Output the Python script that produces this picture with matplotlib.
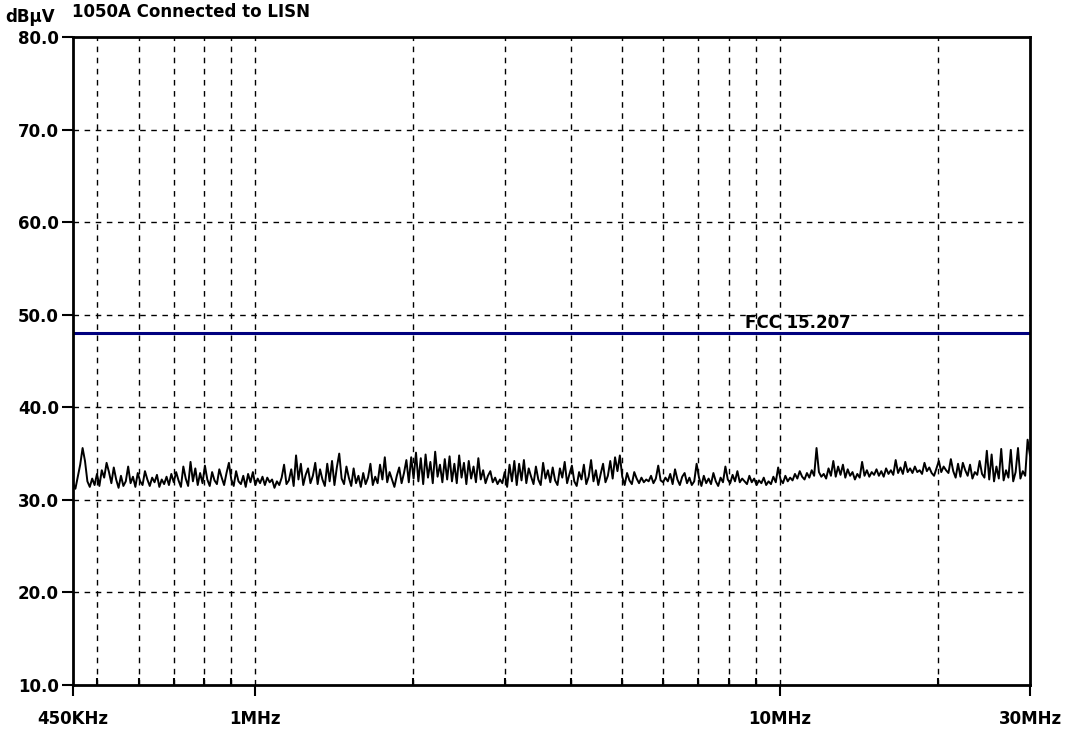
import numpy as np
import matplotlib
matplotlib.use("Agg")
import matplotlib.pyplot as plt
from matplotlib.ticker import FixedLocator, NullFormatter

# frequency span of the scan (Hz)
f_start = 450e3
f_stop = 30e6

# limit line
limit_db = 48.0
limit_label = "FCC 15.207"

trace_db = [
    31.8, 31.2, 32.5, 33.8, 35.6, 34.2, 32.0, 31.4, 32.3, 31.6, 32.8, 31.5, 33.2, 32.4, 34.0, 33.0, 31.8, 33.5, 32.2, 31.3,
    32.6, 31.5, 32.0, 33.6, 31.8, 32.5, 31.4, 32.9, 32.0, 31.6, 33.1, 32.2, 31.5, 32.4, 31.9, 32.7, 31.4, 32.2, 31.7, 32.5,
    31.6, 32.8, 31.9, 33.0, 32.1, 31.4, 33.6, 32.3, 31.5, 34.1, 32.0, 33.4, 31.6, 32.9, 31.8, 33.7, 32.2, 31.5, 33.0, 32.1,
    31.7, 33.3, 32.4, 31.6, 32.9, 34.0, 32.2, 31.5, 33.1, 32.0, 31.7, 32.6, 31.4, 32.8, 31.9, 33.0, 31.6, 32.3, 31.8, 32.5,
    31.6, 32.4, 31.9, 32.2, 31.3, 32.0, 31.6, 32.4, 33.8, 31.7, 32.1, 33.3, 31.5, 34.8, 32.2, 33.9, 31.6, 32.7, 33.4, 31.8,
    32.6, 34.0, 31.7, 33.3, 32.2, 31.5, 33.9, 32.0, 34.2, 31.6, 33.5, 35.0, 32.3, 31.7, 33.6, 32.4, 31.5, 33.4, 31.8, 32.6,
    31.4, 32.9, 31.7, 32.4, 33.9, 31.6, 32.5, 31.8, 33.8, 32.2, 34.6, 31.9, 33.0, 32.2, 31.4, 32.6, 33.5, 31.8, 32.9, 34.3,
    31.9, 34.6, 32.3, 35.1, 32.0, 34.5, 31.7, 34.9, 32.4, 34.1, 31.8, 35.2, 32.5, 33.8, 31.9, 34.4, 32.2, 34.7, 32.0, 33.9,
    31.8, 34.8, 32.4, 34.0, 31.7, 34.2, 32.3, 33.6, 31.9, 34.5, 32.2, 33.2, 31.8, 32.6, 33.1, 31.9, 32.4, 31.7, 32.2, 31.8,
    33.0, 31.4, 33.8, 32.0, 34.2, 31.6, 33.9, 32.1, 34.3, 31.8, 33.4, 32.5, 31.7, 33.6, 32.2, 31.6, 34.0, 32.3, 33.2, 31.9,
    33.5, 32.1, 31.6, 33.4, 32.4, 34.1, 31.8, 32.8, 33.7, 32.0, 31.5, 33.0, 32.2, 33.8, 31.7, 32.5, 34.3, 32.0, 33.2, 31.6,
    32.8, 33.9, 31.9, 32.6, 34.2, 32.3, 34.6, 33.1, 34.8, 32.5, 31.6, 32.9, 32.1, 31.7, 33.0, 32.3, 31.8, 32.4, 31.9, 32.2,
    32.0, 32.6, 31.8, 32.3, 33.7, 32.1, 31.9, 32.4, 32.0, 32.8, 31.7, 33.3, 32.2, 31.6, 32.5, 32.9, 31.8, 32.4, 31.6, 32.0,
    33.9, 32.4, 31.5, 32.6, 31.8, 32.3, 31.7, 32.9, 32.0, 31.5, 32.4, 31.9, 33.6, 32.2, 31.8, 32.7, 32.0, 33.1, 31.9, 32.3,
    32.0, 31.7, 32.6, 31.9, 32.3, 31.6, 32.1, 31.8, 32.4, 31.6, 32.0, 31.7, 32.5, 31.9, 33.5, 32.2, 31.8, 32.6, 32.0, 32.4,
    32.1, 32.8, 32.3, 33.1, 32.5, 32.2, 32.9, 32.4, 33.2, 32.6, 35.6, 33.0, 32.5, 32.8, 32.3, 33.4, 32.6, 34.2, 32.5, 33.6,
    32.7, 33.8, 32.4, 33.3, 32.6, 33.0, 32.2, 32.8, 32.4, 34.1, 32.6, 33.2, 32.5, 33.0, 32.7, 33.3, 32.6, 33.1, 32.5, 33.4,
    32.8, 33.2, 32.7, 34.3, 32.9, 33.5, 32.8, 34.1, 33.0, 33.4, 32.9, 33.6, 33.0, 33.2, 32.8, 34.0, 33.1, 33.5, 32.9, 32.6,
    33.4, 34.2, 33.0, 33.6, 33.2, 32.9, 34.4, 33.1, 32.4, 33.9, 32.5, 34.0, 33.2, 32.6, 33.8, 32.3, 33.0, 32.7, 34.2, 32.8,
    32.4, 35.3, 32.2, 34.9, 32.0, 33.6, 32.3, 35.5, 32.1, 33.2, 32.4, 35.4, 32.0, 33.0, 35.6, 32.3, 33.1, 32.6, 36.5, 34.8,
]

x_tick_pos = [450e3, 1e6, 10e6, 30e6]
x_tick_labels = ["450KHz", "1MHz", "10MHz", "30MHz"]
x_grid_pos = [500e3, 600e3, 700e3, 800e3, 900e3, 1e6,
              2e6, 3e6, 4e6, 5e6, 6e6, 7e6, 8e6, 9e6, 10e6, 20e6]
y_ticks = [10, 20, 30, 40, 50, 60, 70, 80]

plt.rcParams['font.family'] = ['DejaVu Sans']
fsz = 12

fig = plt.figure(figsize=(10.69, 7.32), dpi=100)
ax = fig.add_axes([73 / 1069, 1 - 685 / 732, 957 / 1069, 648 / 732])

freqs = np.geomspace(f_start, f_stop, len(trace_db))
ax.plot(freqs, trace_db, color='black', lw=1.4)
ax.axhline(limit_db, color='#00007f', lw=2.2)
ax.text(745 / 1069, 1 - 323 / 732, limit_label, transform=fig.transFigure,
        fontsize=fsz, fontweight='bold', ha='left', va='center')

ax.set_xscale('log')
ax.set_xlim(f_start, f_stop)
ax.set_ylim(10, 80)

dash = (0, (4, 4))
for xg in x_grid_pos:
    ax.axvline(xg, color='black', lw=1, ls=dash, zorder=0)
for yg in y_ticks[1:-1]:
    ax.axhline(yg, color='black', lw=1, ls=dash, zorder=0)

ax.xaxis.set_major_locator(FixedLocator(x_tick_pos))
ax.set_xticklabels(x_tick_labels)
ax.xaxis.set_minor_locator(FixedLocator([p for p in x_grid_pos if p not in x_tick_pos]))
ax.xaxis.set_minor_formatter(NullFormatter())
ax.tick_params(axis='x', which='major', direction='out', length=8, width=1.5,
               pad=10, labelsize=fsz)
ax.tick_params(axis='x', which='minor', direction='in', length=5, width=1.5)
ax.set_yticks(y_ticks)
ax.set_yticklabels([f"{v:.1f}" for v in y_ticks])
ax.tick_params(axis='y', direction='out', length=8, width=1.5, pad=2, labelsize=fsz)
for lab in ax.get_xticklabels() + ax.get_yticklabels():
    lab.set_fontweight('bold')

for sp in ax.spines.values():
    sp.set_linewidth(2)

fig.text(5 / 1069, 1 - 17 / 732, "dBµV", fontsize=fsz, fontweight='bold', va='center')
fig.text(72 / 1069, 1 - 12 / 732, "1050A Connected to LISN", fontsize=fsz,
         fontweight='bold', va='center')

fig.savefig("out.png", dpi=100)
